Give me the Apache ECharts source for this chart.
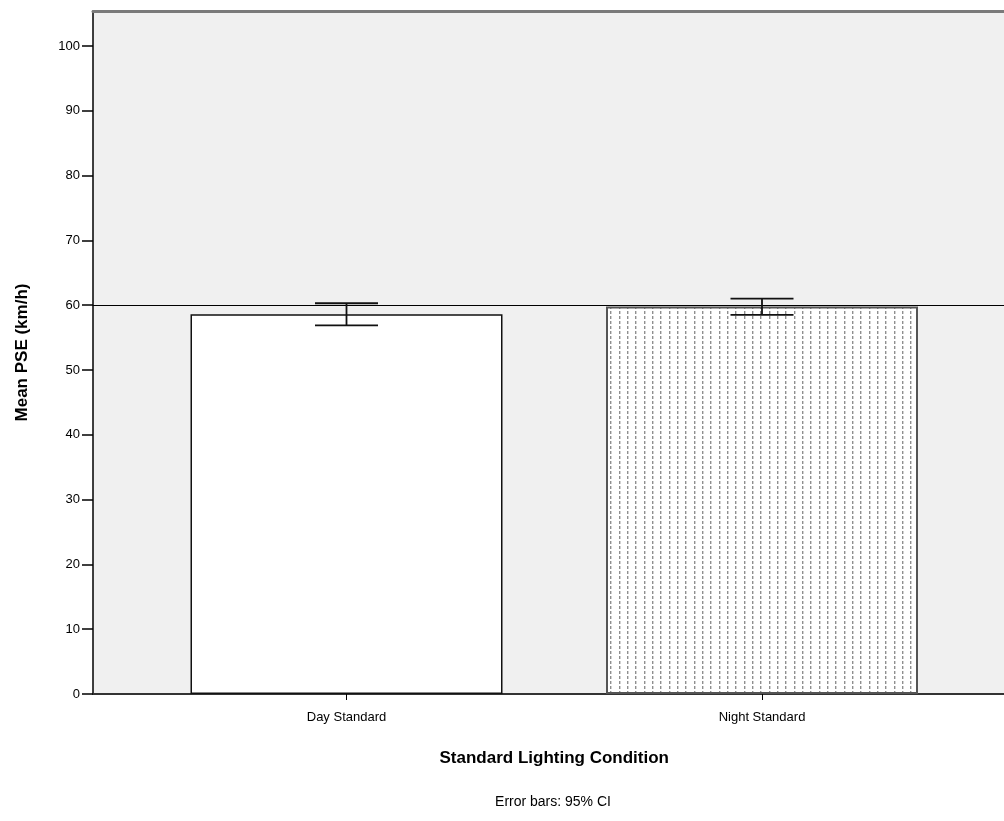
<!DOCTYPE html>
<html>
<head>
<meta charset="utf-8">
<script src="https://cdn.jsdelivr.net/npm/echarts@6/dist/echarts.min.js"></script>
<style>
  html, body { margin: 0; padding: 0; background: #fff; }
  #chart { width: 1004px; height: 821px; }
</style>
</head>
<body>
<div id="chart"></div>
<script>
// Lighting conditions and mean PSE with 95% confidence limits
const categories = ['Day Standard', 'Night Standard'];
const meanPSE = [58.6, 59.8];
const ciLower = [56.9, 58.5];
const ciUpper = [60.3, 61.0];
const yTicks = [0, 10, 20, 30, 40, 50, 60, 70, 80, 90, 100];
const referenceSpeed = 60;

// Dotted vertical-line fill used for the night bar
function dottedPattern() {
  const c = document.createElement('canvas');
  c.width = 25; c.height = 5;
  const ctx = c.getContext('2d');
  ctx.fillStyle = '#ffffff';
  ctx.fillRect(0, 0, c.width, c.height);
  ctx.fillStyle = '#8f8f8f';
  [2, 10, 19].forEach(x => ctx.fillRect(x, 1, 1.4, 3));
  return c;
}

const font = "'Liberation Sans', Arial, sans-serif";
const chart = echarts.init(document.getElementById('chart'), null, { renderer: 'canvas' });

const option = {
  animation: false,
  textStyle: { fontFamily: font },
  grid: [
    { left: 93, right: 0, top: 11, bottom: 127, show: true, backgroundColor: '#f0f0f0', borderWidth: 0 },
    { left: 138.75, right: 34.25, top: 11, bottom: 127 }
  ],
  xAxis: [
    { gridIndex: 0, type: 'value', min: 0, max: 1, position: 'bottom',
      axisLine: { show: true, lineStyle: { color: '#333', width: 2 } },
      axisTick: { show: false }, axisLabel: { show: false }, splitLine: { show: false } },
    { gridIndex: 0, type: 'value', min: 0, max: 1, position: 'top',
      axisLine: { show: true, lineStyle: { color: '#7a7a7a', width: 3 } },
      axisTick: { show: false }, axisLabel: { show: false }, splitLine: { show: false } },
    { gridIndex: 1, type: 'category', data: categories, position: 'bottom',
      axisLine: { show: false },
      axisTick: { show: true, alignWithLabel: true, length: 6, lineStyle: { color: '#000', width: 1 } },
      axisLabel: { color: '#000', fontSize: 13, margin: 17, fontFamily: font },
      name: 'Standard Lighting Condition', nameLocation: 'middle', nameGap: 56,
      nameTextStyle: { color: '#000', fontSize: 17, fontWeight: 'bold', fontFamily: font } }
  ],
  yAxis: [
    { gridIndex: 0, type: 'value', min: 0, max: 105.4,
      axisLine: { show: true, lineStyle: { color: '#000', width: 1.5 } },
      axisTick: { show: true, length: 11, customValues: yTicks, lineStyle: { color: '#000', width: 1.5 } },
      axisLabel: { customValues: yTicks, color: '#000', fontSize: 13, margin: 13, fontFamily: font },
      splitLine: { show: false },
      name: 'Mean PSE (km/h)', nameLocation: 'middle', nameRotate: 90, nameGap: 62,
      nameTextStyle: { color: '#000', fontSize: 17, fontWeight: 'bold', fontFamily: font } },
    { gridIndex: 1, type: 'value', min: 0, max: 105.4, show: false }
  ],
  series: [
    { // reference line across the plot
      type: 'line', xAxisIndex: 0, yAxisIndex: 0, data: [], silent: true,
      markLine: { symbol: 'none', silent: true, label: { show: false },
        lineStyle: { color: '#000', width: 1.2, type: 'solid' },
        data: [{ yAxis: referenceSpeed }] }
    },
    {
      type: 'bar', xAxisIndex: 2, yAxisIndex: 1, barWidth: 312,
      data: meanPSE.map((v, i) => ({
        value: v,
        itemStyle: i === 0
          ? { color: '#ffffff', borderColor: '#111', borderWidth: 1.5 }
          : { color: { image: dottedPattern(), repeat: 'repeat' }, borderColor: '#555', borderWidth: 2 }
      }))
    },
    {
      type: 'custom', xAxisIndex: 2, yAxisIndex: 1, z: 10,
      data: categories.map((c, i) => [i, ciLower[i], ciUpper[i]]),
      renderItem: function (params, api) {
        const lo = api.coord([api.value(0), api.value(1)]);
        const hi = api.coord([api.value(0), api.value(2)]);
        const half = 31.5;
        const style = { stroke: '#111', lineWidth: 1.8 };
        return {
          type: 'group',
          children: [
            { type: 'line', shape: { x1: hi[0], y1: hi[1], x2: lo[0], y2: lo[1] }, style },
            { type: 'line', shape: { x1: hi[0] - half, y1: hi[1], x2: hi[0] + half, y2: hi[1] }, style },
            { type: 'line', shape: { x1: lo[0] - half, y1: lo[1], x2: lo[0] + half, y2: lo[1] }, style }
          ]
        };
      }
    }
  ],
  graphic: [
    { type: 'text', x: 553, y: 802,
      style: { text: 'Error bars: 95% CI', fill: '#000', font: '14px ' + font, textAlign: 'center', textVerticalAlign: 'middle' } }
  ]
};

chart.setOption(option);
</script>
</body>
</html>
